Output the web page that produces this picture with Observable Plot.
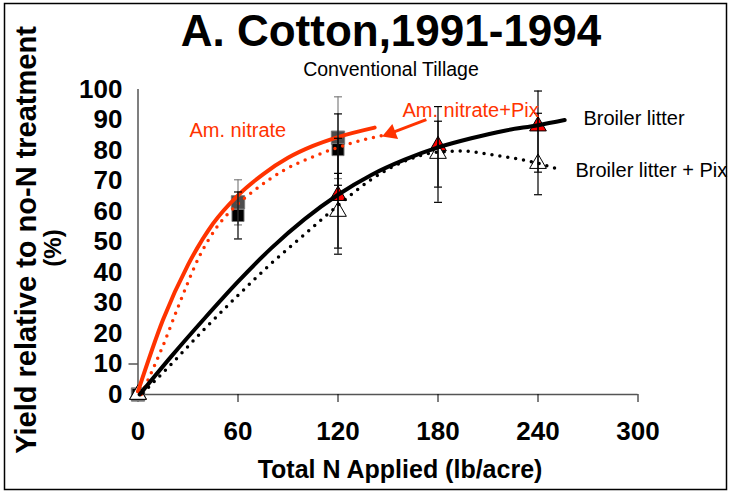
<!DOCTYPE html>
<html><head><meta charset="utf-8">
<script src="https://cdn.jsdelivr.net/npm/d3@7"></script>
<script src="https://cdn.jsdelivr.net/npm/@observablehq/plot@0.6"></script>
<style>
body{margin:0;background:#fff;}
#chart{width:731px;height:494px;}
</style></head><body><div id="chart"></div>
<script>
// ---- data ----
const xTicks = [0, 60, 120, 180, 240, 300];
const yTicks = [0, 10, 20, 30, 40, 50, 60, 70, 80, 90, 100];

// Am. nitrate (grey squares) and Am. nitrate + Pix (black squares)
const anRates = [0, 60, 120];
const anYield = [0, 63, 84.2];
const anLo = [0, 55.6, 70.8];
const anHi = [0, 70.4, 97.6];
const anPixYield = [0, 58.7, 80.3];
const anPixLo = [0, 51, 68.6];
const anPixHi = [0, 66.4, 92];

// Broiler litter (red triangles) and Broiler litter + Pix (open triangles)
const blRates = [0, 120, 180, 240];
const blYield = [0, 65.2, 81.5, 88];
const blLo = [0, 46, 68, 72.9];
const blHi = [0, 84, 94.4, 99.5];
const blPixYield = [0, 60, 79, 75.7];
const blPixLo = [0, 48, 63, 65.5];
const blPixHi = [0, 72.5, 89.6, 92.2];

// fitted curves, points
const anFitX = [0, 15, 30, 45, 60, 75, 90, 105, 120, 142];
const anFitY = [1, 24.5, 42.5, 56, 65.3, 72.2, 77.6, 81.5, 84.4, 87.5];
const anPixFitX = [2, 15, 25, 37, 47.5, 60, 70, 87.5, 107.5, 127.5, 147];
const anPixFitY = [0, 16, 30, 45.5, 55, 62.5, 67, 73.5, 78.5, 82.3, 85];
const blFitX = [1, 20, 40, 60, 80, 100, 120, 140, 160, 180, 200, 220, 240, 256];
const blFitY = [0, 12.5, 25, 37, 48, 57.5, 65.5, 72, 77, 81, 84, 86.5, 88.3, 90];
const blPixFitX = [3, 20, 40, 60, 80, 100, 120, 140, 160, 180, 195, 210, 225, 240, 253];
const blPixFitY = [0.5, 10, 21.5, 32.5, 43, 52.5, 62, 70.5, 76.5, 79.5, 79.8, 78.8, 77.5, 75.8, 73.8];

// annotations (data coordinates)
const labelText = ["Am. nitrate", "Am. nitrate+Pix", "Broiler litter", "Broiler litter + Pix"];
const labelX = [30.9, 158.7, 267.3, 262.5];
const labelY = [86.4, 93.2, 90.3, 73.3];
const labelColor = ["#ff3300", "#ff3300", "#000", "#000"];
const arrowTail = [173, 90.1];
const arrowHead = [151.7, 85.7];   // centre of the filled arrow head
const arrowAngle = -110.7;          // head direction, degrees clockwise from up

// ---- drawing ----
const FONT = "'Liberation Sans', Arial, Helvetica, sans-serif";
const RED = "#ff3300";
const capSymbol = {draw(ctx, size) { const w = Math.sqrt(size); ctx.moveTo(-w / 2, 0); ctx.lineTo(w / 2, 0); }};
const idx = a => a.map((_, i) => i);

function errorMarks(xs, lo, hi, color) {
  const keep = idx(xs).filter(i => hi[i] > lo[i]);
  return [
    Plot.ruleX(keep, {x: i => xs[i], y1: i => lo[i], y2: i => hi[i], stroke: color, strokeWidth: 1.2}),
    Plot.dot(keep, {x: i => xs[i], y: i => lo[i], symbol: capSymbol, r: 4.5, stroke: color, strokeWidth: 1.2, fill: "none"}),
    Plot.dot(keep, {x: i => xs[i], y: i => hi[i], symbol: capSymbol, r: 4.5, stroke: color, strokeWidth: 1.2, fill: "none"})
  ];
}

const svg = Plot.plot({
  width: 731, height: 494,
  marginLeft: 137.5, marginRight: 93.5, marginTop: 89, marginBottom: 100,
  x: {domain: [0, 300]},
  y: {domain: [0, 100]},
  style: {fontFamily: FONT, background: "white", overflow: "visible", color: "#000"},
  marks: [
    Plot.ruleX([0], {stroke: "#555", strokeWidth: 1.5}),
    Plot.ruleY([0], {stroke: "#555", strokeWidth: 1.5}),
    Plot.axisX({ticks: xTicks, tickSize: 8, tickPadding: 19, fontSize: 26, fontWeight: "bold", label: null, tickFormat: d => d}),
    Plot.axisY({ticks: yTicks, tickSize: 0, tickPadding: 15.5, fontSize: 26, fontWeight: "bold", label: null, tickFormat: d => d}),
    Plot.axisY({ticks: [10], tickSize: 9, label: null, tickFormat: () => ""}),
    // markers
    Plot.dot(anRates, {x: anRates, y: anYield, symbol: "square", r: 7.5, fill: "#4d4d4d", stroke: "#7a7a7a", strokeWidth: 1}),
    Plot.dot(anRates, {x: anRates, y: anPixYield, symbol: "square", r: 6.8, fill: "#000", stroke: "#777", strokeWidth: 1}),
    Plot.dot(blRates, {x: blRates, y: blYield, symbol: "triangle", r: 6.2, fill: "#ff0000", stroke: "#000", strokeWidth: 1}),
    Plot.dot(blRates, {x: blRates, y: blPixYield, symbol: "triangle", r: 6.2, fill: "#fff", stroke: "#000", strokeWidth: 1}),
    // fitted curves
    Plot.line(anFitY, {x: anFitX, y: anFitY, stroke: RED, strokeWidth: 4, curve: "monotone-x"}),
    Plot.line(anPixFitY, {x: anPixFitX, y: anPixFitY, stroke: RED, strokeWidth: 3.5, strokeDasharray: "0 8", strokeLinecap: "round", curve: "monotone-x"}),
    Plot.line(blFitY, {x: blFitX, y: blFitY, stroke: "#000", strokeWidth: 4, curve: "monotone-x"}),
    Plot.line(blPixFitY, {x: blPixFitX, y: blPixFitY, stroke: "#000", strokeWidth: 3.5, strokeDasharray: "0 8", strokeLinecap: "round", curve: "monotone-x"}),
    // error bars
    ...errorMarks(anRates, anLo, anHi, "#808080"),
    ...errorMarks(anRates, anPixLo, anPixHi, "#000"),
    ...errorMarks(blRates, blLo, blHi, "#000"),
    ...errorMarks(blRates, blPixLo, blPixHi, "#000"),
    // annotations
    Plot.text(labelText, {x: labelX, y: labelY, text: labelText, fill: labelColor, textAnchor: "start", fontSize: 20}),
    Plot.link([0], {x1: arrowTail[0], y1: arrowTail[1], x2: arrowHead[0], y2: arrowHead[1], stroke: RED, strokeWidth: 3}),
    Plot.dot([0], {x: arrowHead[0], y: arrowHead[1], symbol: "triangle", r: 6, rotate: arrowAngle, fill: RED, stroke: "none"})
  ]
});

const s = d3.select(svg);
s.append("rect").attr("x", 4.5).attr("y", 3.5).attr("width", 722).attr("height", 486)
  .attr("fill", "none").attr("stroke", "#000").attr("stroke-width", 1.5);
const addText = (txt, x, y, size, weight, rotate) => {
  const t = s.append("text").text(txt).attr("font-family", FONT).attr("font-size", size)
    .attr("font-weight", weight).attr("text-anchor", "middle").attr("fill", "#000");
  if (rotate) t.attr("transform", `translate(${x},${y}) rotate(-90)`);
  else t.attr("x", x).attr("y", y);
};
addText("A. Cotton,1991-1994", 391, 46, 44, "bold");
addText("Conventional Tillage", 391, 76, 19.5, "normal");
addText("Total N Applied (lb/acre)", 400, 478, 25, "bold");
addText("Yield relative to no-N treatment", 36, 240, 29, "bold", true);
addText("(%)", 61, 248, 24, "bold", true);

document.getElementById("chart").appendChild(svg);
</script></body></html>
